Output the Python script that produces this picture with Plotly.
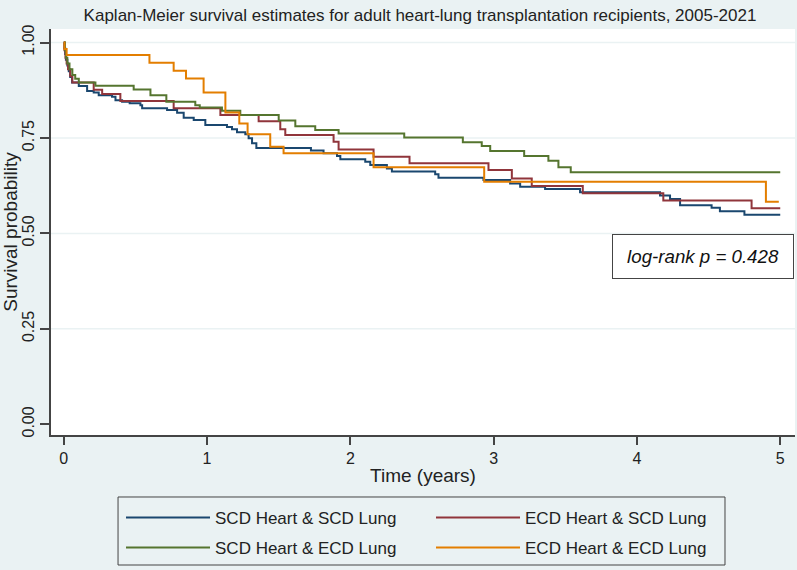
import plotly.graph_objects as go

# ---------------- data ----------------
TITLE = "Kaplan-Meier survival estimates for adult heart-lung transplantation recipients, 2005-2021"
X_TICKS = [0, 1, 2, 3, 4, 5]
Y_TICKS = [0.0, 0.25, 0.5, 0.75, 1.0]
Y_TICK_TEXT = ["0.00", "0.25", "0.50", "0.75", "1.00"]

scd_scd_t = [0, 0.005, 0.01, 0.015, 0.025, 0.035, 0.045, 0.058, 0.105, 0.163, 0.209, 0.244,
             0.337, 0.361, 0.407, 0.460, 0.535, 0.547, 0.721, 0.791, 0.837, 0.907, 0.988,
             1.139, 1.174, 1.209, 1.267, 1.290, 1.314, 1.344, 1.725, 1.813, 1.907, 1.930,
             2.104, 2.139, 2.255, 2.290, 2.592, 2.615, 2.929, 3.115, 3.185, 3.359, 3.603,
             4.161, 4.231, 4.301, 4.521, 4.579, 4.75, 5.0]
scd_scd_s = [1.0, 0.985, 0.97, 0.955, 0.94, 0.925, 0.91, 0.895, 0.886, 0.873, 0.869, 0.862,
             0.858, 0.849, 0.845, 0.841, 0.836, 0.828, 0.823, 0.816, 0.803, 0.797, 0.784,
             0.779, 0.773, 0.765, 0.760, 0.749, 0.736, 0.724, 0.717, 0.710, 0.703, 0.694,
             0.688, 0.679, 0.670, 0.662, 0.655, 0.646, 0.640, 0.631, 0.622, 0.616, 0.608,
             0.599, 0.590, 0.574, 0.567, 0.558, 0.549, 0.549]

ecd_scd_t = [0, 0.005, 0.012, 0.02, 0.03, 0.045, 0.06, 0.209, 0.268, 0.395, 0.767, 1.093,
             1.360, 1.511, 1.546, 1.883, 1.918, 2.162, 2.413, 2.964, 3.127, 3.266, 3.622,
             4.184, 4.800, 5.0]
ecd_scd_s = [1.0, 0.98, 0.96, 0.945, 0.93, 0.912, 0.895, 0.876, 0.865, 0.847, 0.828, 0.810,
             0.794, 0.773, 0.758, 0.740, 0.720, 0.701, 0.684, 0.666, 0.644, 0.624, 0.605,
             0.586, 0.566, 0.566]

scd_ecd_t = [0, 0.008, 0.016, 0.025, 0.04, 0.06, 0.08, 0.105, 0.221, 0.488, 0.605, 0.716,
             0.918, 0.949, 1.104, 1.232, 1.50, 1.616, 1.755, 1.918, 2.376, 2.785, 2.917,
             2.976, 3.213, 3.382, 3.452, 3.538, 5.0]
scd_ecd_s = [1.0, 0.98, 0.96, 0.945, 0.93, 0.915, 0.905, 0.895, 0.887, 0.877, 0.862, 0.845,
             0.836, 0.830, 0.821, 0.810, 0.796, 0.781, 0.771, 0.762, 0.751, 0.739, 0.729,
             0.716, 0.703, 0.690, 0.673, 0.660, 0.660]

ecd_ecd_t = [0, 0.005, 0.02, 0.598, 0.767, 0.853, 0.976, 1.128, 1.225, 1.283, 1.441, 1.534,
             2.162, 2.934, 4.900, 4.99]
ecd_ecd_s = [1.0, 0.983, 0.967, 0.947, 0.926, 0.906, 0.869, 0.817, 0.788, 0.760, 0.727, 0.710,
             0.673, 0.635, 0.583, 0.583]

SERIES = [
    ("SCD Heart & SCD Lung", scd_scd_t, scd_scd_s, "#1A476F", "legend"),
    ("ECD Heart & SCD Lung", ecd_scd_t, ecd_scd_s, "#90353B", "legend"),
    ("SCD Heart & ECD Lung", scd_ecd_t, scd_ecd_s, "#55752F", "legend2"),
    ("ECD Heart & ECD Lung", ecd_ecd_t, ecd_ecd_s, "#E37E00", "legend2"),
]
LOGRANK_TEXT = "log-rank p = 0.428"

# ---------------- figure ----------------
FONT = "Liberation Sans, Arial, sans-serif"
BG = "#EAF2F3"
AXC = "#444444"

fig = go.Figure()
for name, t, s, color, leg in SERIES:
    fig.add_trace(go.Scatter(x=t, y=s, mode="lines", name=name, legend=leg,
                             line=dict(shape="hv", color=color, width=2)))

for v in Y_TICKS[1:]:
    fig.add_shape(type="line", xref="paper", x0=0, x1=1, yref="y", y0=v, y1=v,
                  line=dict(color=BG, width=1.5), layer="below")

# legend frame
fig.add_shape(type="rect", xref="paper", yref="paper",
              x0=0.0901, x1=0.9059, y0=-0.1527, y1=-0.3202,
              line=dict(color=AXC, width=1), fillcolor="rgba(0,0,0,0)")

fig.add_annotation(text="<i>" + LOGRANK_TEXT + "</i>", xref="paper", yref="paper",
                   x=0.8763, y=0.4397, xanchor="center", yanchor="middle", showarrow=False,
                   font=dict(family=FONT, size=18.7, color="#111"),
                   width=178, height=41, borderpad=1, borderwidth=1, bordercolor=AXC,
                   bgcolor="white")

legend_common = dict(orientation="h", xanchor="left", yanchor="top",
                     borderwidth=0, bgcolor="rgba(0,0,0,0)",
                     font=dict(family=FONT, size=17, color="#222"),
                     itemwidth=84, entrywidth=211, traceorder="normal")

fig.update_layout(
    width=797, height=570,
    margin=dict(l=51, r=2, t=29, b=135),
    paper_bgcolor=BG, plot_bgcolor="white",
    font=dict(family=FONT, size=16, color="#222"),
    title=dict(text=TITLE, x=0.527, xanchor="center", y=1 - 15 / 570, yanchor="middle",
               font=dict(family=FONT, size=17, color="#222")),
    xaxis=dict(range=[-0.089, 5.103], tickvals=X_TICKS, showline=True, linecolor=AXC,
               linewidth=1.5, ticks="outside", ticklen=8, tickcolor=AXC, tickwidth=1.5,
               showgrid=False, zeroline=False,
               title=dict(text="Time (years)", standoff=3)),
    yaxis=dict(range=[-0.028, 1.0354], tickvals=Y_TICKS, ticktext=Y_TICK_TEXT,
               tickangle=-90, showline=True, linecolor=AXC, linewidth=1.5,
               ticks="outside", ticklen=9, tickcolor=AXC, tickwidth=1.5,
               showgrid=False, zeroline=False,
               title=dict(text="Survival probability", standoff=4)),
    legend=dict(x=0.0941, y=-0.1601, **legend_common),
    legend2=dict(x=0.0941, y=-0.2340, **legend_common),
    showlegend=True,
)

fig.write_html("out.html",
               config={"displayModeBar": False},
               post_script="document.body.style.margin='0';document.body.style.padding='0';")
